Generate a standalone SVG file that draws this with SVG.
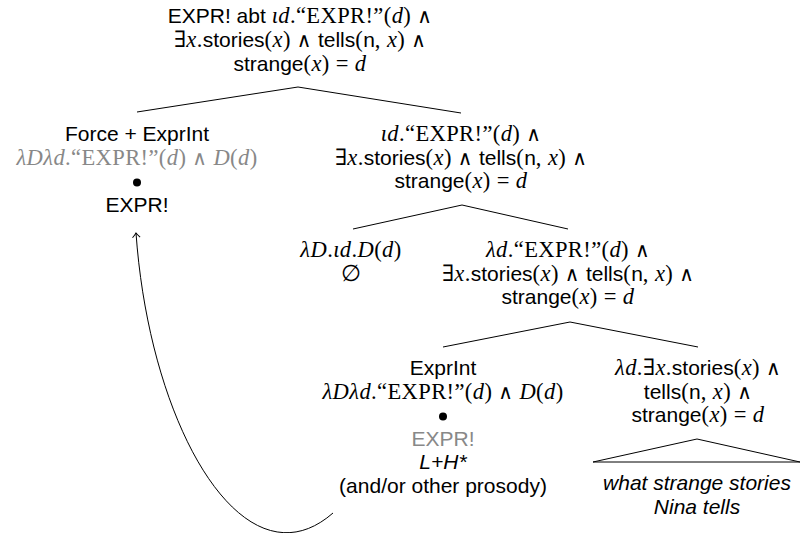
<svg xmlns="http://www.w3.org/2000/svg" width="801" height="533" viewBox="0 0 801 533">
<defs>
<style>
text{font-family:"Liberation Serif","DejaVu Serif",serif;font-size:22.5px;letter-spacing:0.4px;fill:#000;text-anchor:middle}
.sf{font-family:"Liberation Sans","DejaVu Sans",sans-serif;font-size:21px;letter-spacing:0}
.it{font-style:italic}
.op{font-size:20px}
.g{fill:#888}
.ln{stroke:#000;stroke-width:1;fill:none}
</style>
<marker id="arr" viewBox="-6 -5 8 10" markerWidth="8" markerHeight="10" refX="0" refY="0" orient="auto" markerUnits="userSpaceOnUse">
<path d="M-4.5,-3.8 Q-1.5,-1 0,0 Q-1.5,1 -4.5,3.8" fill="none" stroke="#000" stroke-width="1"/>
</marker>
</defs>
<rect width="801" height="533" fill="#fff"/>
<g id="connectors" class="ln">
<polyline points="137,112 298,87 461,113"/>
<polyline points="353,229 462,205 568,229"/>
<polyline points="443,347 570,322 698,347"/>
<polygon points="697,439 593,462 800,462"/>
<path d="M333,513 C245,590 150,430 136,233" marker-end="url(#arr)"/>
</g>
<g id="root">
<text x="300" y="23"><tspan class="sf">EXPR! abt </tspan><tspan class="it">ιd</tspan>.“EXPR!”(<tspan class="it">d</tspan>) <tspan class="op">∧</tspan></text>
<text x="300" y="47">∃<tspan class="it">x</tspan>.<tspan class="sf">stories</tspan>(<tspan class="it">x</tspan>) <tspan class="op">∧</tspan> <tspan class="sf">tells</tspan>(<tspan class="sf">n</tspan>, <tspan class="it">x</tspan>) <tspan class="op">∧</tspan></text>
<text x="300" y="71"><tspan class="sf">strange</tspan>(<tspan class="it">x</tspan>) = <tspan class="it">d</tspan></text>
</g>
<g id="force-exprint">
<text x="137" y="141" class="sf">Force + ExprInt</text>
<text x="137" y="164.5" class="g"><tspan class="it">λDλd</tspan>.“EXPR!”(<tspan class="it">d</tspan>) <tspan class="op">∧</tspan> <tspan class="it">D</tspan>(<tspan class="it">d</tspan>)</text>
<circle cx="137" cy="182.5" r="4" fill="#000"/>
<text x="137" y="211.5" class="sf">EXPR!</text>
</g>
<g id="iota-node">
<text x="461" y="141"><tspan class="it">ιd</tspan>.“EXPR!”(<tspan class="it">d</tspan>) <tspan class="op">∧</tspan></text>
<text x="461" y="164.5">∃<tspan class="it">x</tspan>.<tspan class="sf">stories</tspan>(<tspan class="it">x</tspan>) <tspan class="op">∧</tspan> <tspan class="sf">tells</tspan>(<tspan class="sf">n</tspan>, <tspan class="it">x</tspan>) <tspan class="op">∧</tspan></text>
<text x="461" y="188"><tspan class="sf">strange</tspan>(<tspan class="it">x</tspan>) = <tspan class="it">d</tspan></text>
</g>
<g id="iota-op">
<text x="351" y="257"><tspan class="it">λD</tspan>.<tspan class="it">ιd</tspan>.<tspan class="it">D</tspan>(<tspan class="it">d</tspan>)</text>
<text x="351" y="280.5">∅</text>
</g>
<g id="lambda-node">
<text x="568" y="257"><tspan class="it">λd</tspan>.“EXPR!”(<tspan class="it">d</tspan>) <tspan class="op">∧</tspan></text>
<text x="568" y="280.5">∃<tspan class="it">x</tspan>.<tspan class="sf">stories</tspan>(<tspan class="it">x</tspan>) <tspan class="op">∧</tspan> <tspan class="sf">tells</tspan>(<tspan class="sf">n</tspan>, <tspan class="it">x</tspan>) <tspan class="op">∧</tspan></text>
<text x="568" y="304"><tspan class="sf">strange</tspan>(<tspan class="it">x</tspan>) = <tspan class="it">d</tspan></text>
</g>
<g id="exprint">
<text x="443" y="375" class="sf">ExprInt</text>
<text x="443" y="398.5"><tspan class="it">λDλd</tspan>.“EXPR!”(<tspan class="it">d</tspan>) <tspan class="op">∧</tspan> <tspan class="it">D</tspan>(<tspan class="it">d</tspan>)</text>
<circle cx="443" cy="416.5" r="4" fill="#000"/>
<text x="443" y="445.5" class="sf g">EXPR!</text>
<text x="443" y="469" class="sf it">L+H*</text>
<text x="443" y="492.5" class="sf">(and/or other prosody)</text>
</g>
<g id="stories-node">
<text x="698" y="375"><tspan class="it">λd</tspan>.∃<tspan class="it">x</tspan>.<tspan class="sf">stories</tspan>(<tspan class="it">x</tspan>) <tspan class="op">∧</tspan></text>
<text x="698" y="398.5"><tspan class="sf">tells</tspan>(<tspan class="sf">n</tspan>, <tspan class="it">x</tspan>) <tspan class="op">∧</tspan></text>
<text x="698" y="422"><tspan class="sf">strange</tspan>(<tspan class="it">x</tspan>) = <tspan class="it">d</tspan></text>
</g>
<g id="phrase">
<text x="697" y="490" class="sf it">what strange stories</text>
<text x="697" y="513.5" class="sf it">Nina tells</text>
</g>
</svg>
